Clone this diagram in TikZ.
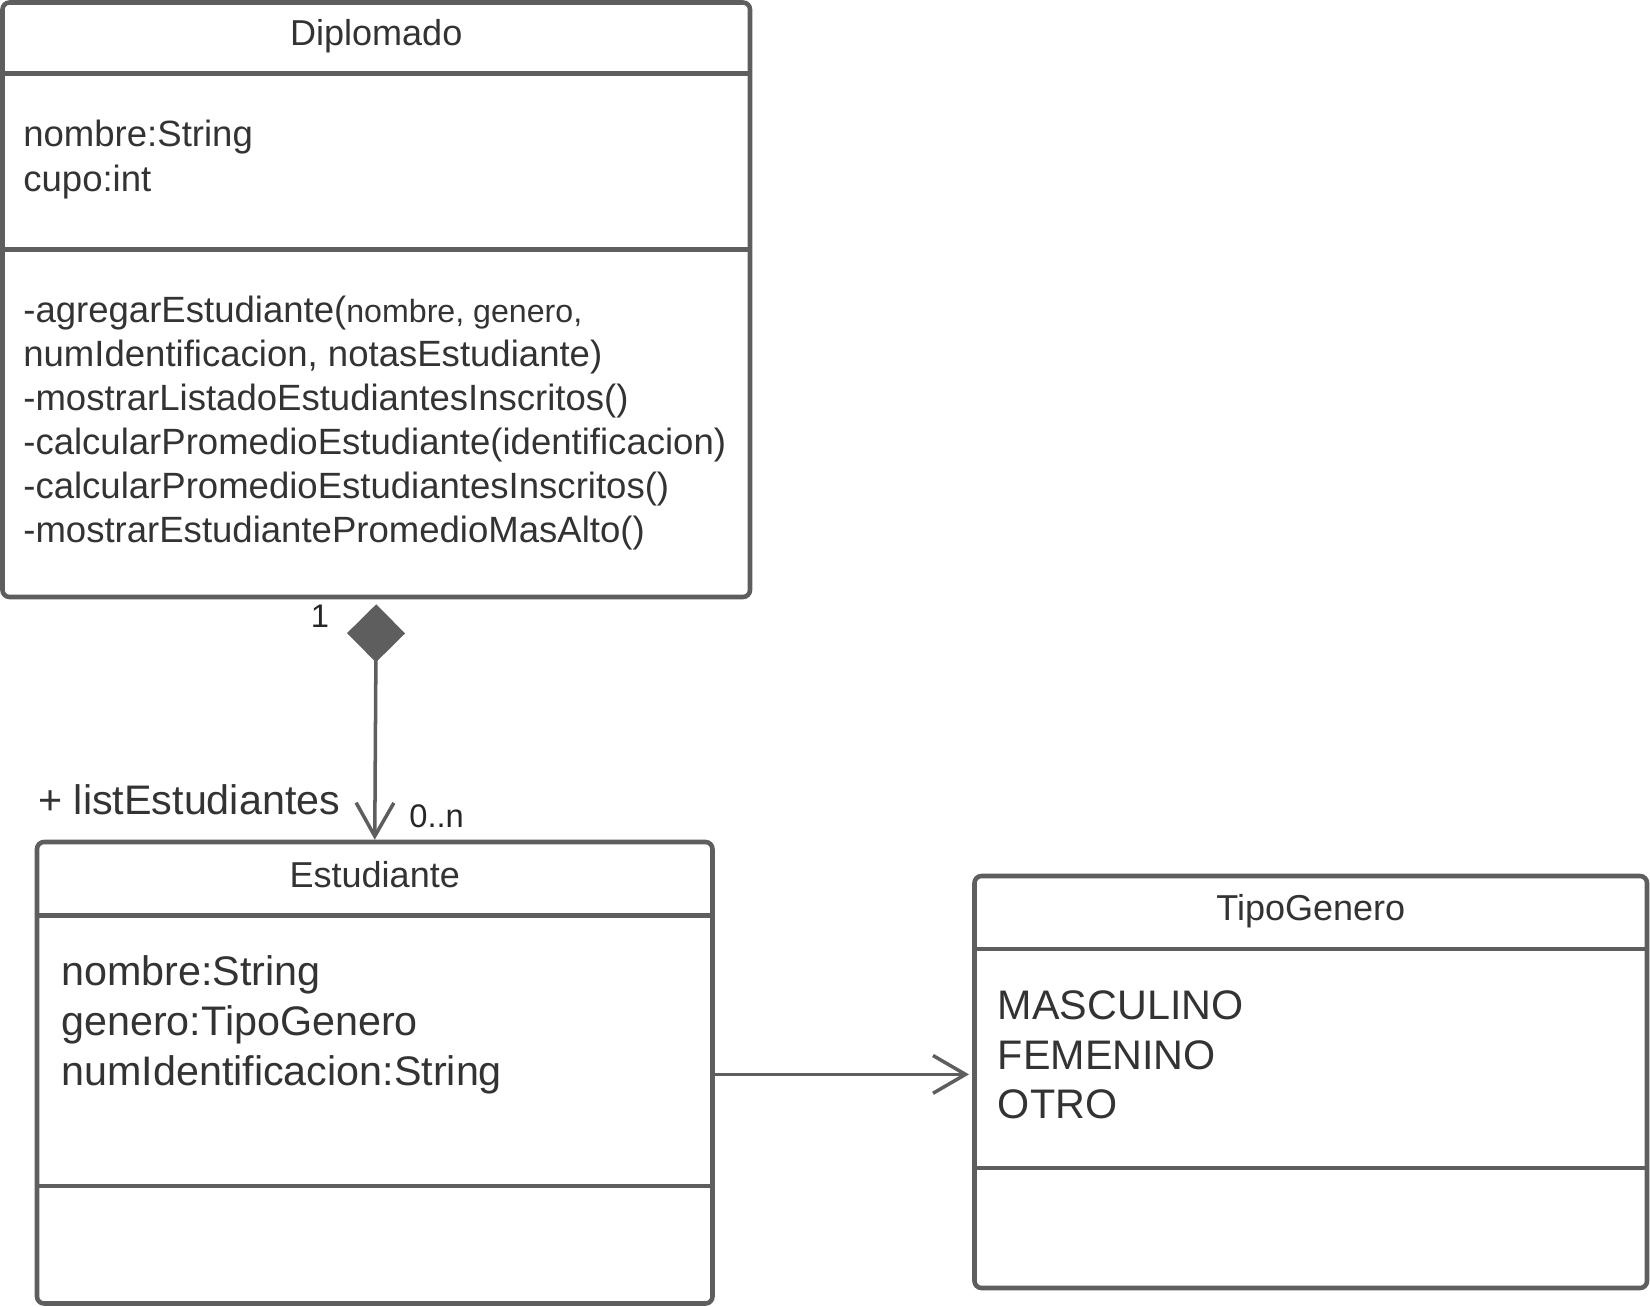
\documentclass[tikz,border=0pt]{standalone}
\usepackage{fontspec}
\setmainfont{Liberation Sans}
\usepackage{tikz}
\usetikzlibrary{fit,arrows.meta}
\definecolor{umlline}{HTML}{5E5E5E}
\definecolor{umltext}{HTML}{333333}

\begin{document}
\begin{tikzpicture}[x=0.02cm,y=-0.02cm,
	classbox/.style={draw=umlline,line width=2.6pt,rounded corners=4pt,inner sep=0pt},
	divider/.style={draw=umlline,line width=2.6pt},
	classname/.style={text=umltext,font=\fontsize{20.5pt}{24pt}\selectfont,anchor=base,inner sep=0pt},
	member/.style={text=umltext,font=\fontsize{20.8pt}{25pt}\selectfont,anchor=base west,inner sep=0pt},
	bigmember/.style={text=umltext,font=\fontsize{23.5pt}{28pt}\selectfont,anchor=base west,inner sep=0pt},
	mult/.style={text=black!85,font=\fontsize{18.6pt}{22pt}\selectfont,inner sep=0pt},
	composition/.style={draw=umlline,line width=2pt,arrows={Diamond[length=33pt,width=33pt]-Straight Barb[length=19pt,width=21.5pt]}},
	assoc/.style={draw=umlline,line width=2pt,arrows={-Straight Barb[length=18.5pt,width=21.5pt]}},
	]
	\useasboundingbox (0,0) rectangle (1650,1307);

	% Diplomado
	\node[classbox,fit={(2.5,2.5) (750,597)}] (diplomado) {};
	\draw[divider] (diplomado.west |- 0,73.7) -- (diplomado.east |- 0,73.7);
	\draw[divider] (diplomado.west |- 0,249.4) -- (diplomado.east |- 0,249.4);
	\node[classname] (diplomadoName) at (diplomado.north |- 0,46) {Diplomado};
	\foreach \txt [count=\i] in {nombre:String, cupo:int}
		\node[member] (diplomadoAttr\i) at (23,{146.6+44.5*(\i-1)}) {\txt};
	\foreach \txt [count=\i] in {
		{-agregarEstudiante({\fontsize{18.3pt}{22pt}\selectfont nombre, genero,}},
		{numIdentificacion, notasEstudiante)},
		{-mostrarListadoEstudiantesInscritos()},
		{-calcularPromedioEstudiante(identificacion)},
		{-calcularPromedioEstudiantesInscritos()},
		{-mostrarEstudiantePromedioMasAlto()}}
		\node[member] (diplomadoOp\i) at (23,{322.4+44*(\i-1)}) {\txt};

	% Estudiante
	\node[classbox,fit={(37,842) (712.5,1303.5)}] (estudiante) {};
	\draw[divider] (estudiante.west |- 0,915.5) -- (estudiante.east |- 0,915.5);
	\draw[divider] (estudiante.west |- 0,1186) -- (estudiante.east |- 0,1186);
	\node[classname] (estudianteName) at (estudiante.north |- 0,887.2) {Estudiante};
	\foreach \txt [count=\i] in {nombre:String, genero:TipoGenero, numIdentificacion:String}
		\node[bigmember] (estudianteAttr\i) at (61,{985.8+50*(\i-1)}) {\txt};

	% TipoGenero
	\node[classbox,fit={(974.5,876) (1647,1288)}] (tipogenero) {};
	\draw[divider] (tipogenero.west |- 0,949.2) -- (tipogenero.east |- 0,949.2);
	\draw[divider] (tipogenero.west |- 0,1168) -- (tipogenero.east |- 0,1168);
	\node[classname] (tipogeneroName) at (tipogenero.north |- 0,920.8) {TipoGenero};
	\foreach \txt [count=\i] in {MASCULINO, FEMENINO, OTRO}
		\node[bigmember] (tipogeneroLit\i) at (997.6,{1019.8+49.5*(\i-1)}) {\txt};

	% relaciones
	\draw[composition] ([yshift=-0.1cm]diplomado.south) -- (estudiante.north);
	\node[mult,anchor=base] (multUno) at (320,627) {1};
	\node[mult,anchor=base west] (multMuchos) at (409,827) {0..n};
	\node[bigmember] (rolLista) at (38,814) {+ listEstudiantes};

	\coordinate (flechaFin) at (969,1074.4);
	\draw[assoc] (estudiante.east |- flechaFin) -- (flechaFin);
\end{tikzpicture}
\end{document}
